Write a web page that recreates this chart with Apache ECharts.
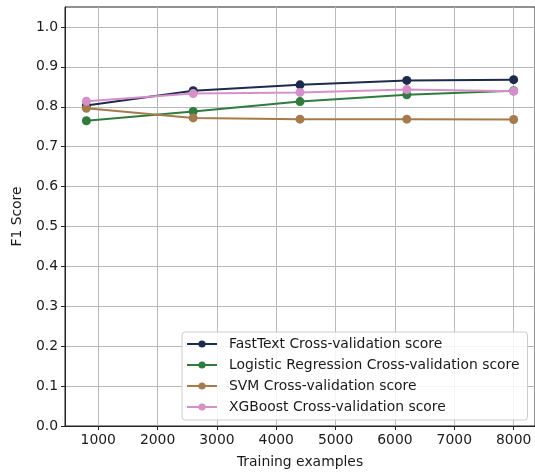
<!DOCTYPE html>
<html>
<head>
<meta charset="utf-8">
<script src="https://cdn.jsdelivr.net/npm/echarts@6/dist/echarts.min.js"></script>
<style>
html,body{margin:0;padding:0;background:#fff;}
#chart{width:535px;height:474px;}
</style>
</head>
<body>
<div id="chart"></div>
<script>
const trainSizes = [800, 2600, 4400, 6200, 8000];
const fastText = [0.803, 0.840, 0.855, 0.866, 0.868];
const logReg = [0.765, 0.788, 0.813, 0.830, 0.840];
const svm = [0.796, 0.772, 0.769, 0.769, 0.768];
const xgb = [0.814, 0.833, 0.836, 0.843, 0.839];
const seriesNames = ['FastText Cross-validation score', 'Logistic Regression Cross-validation score', 'SVM Cross-validation score', 'XGBoost Cross-validation score'];
const xTicks = [1000, 2000, 3000, 4000, 5000, 6000, 7000, 8000];
const yTicks = [0, 0.1, 0.2, 0.3, 0.4, 0.5, 0.6, 0.7, 0.8, 0.9, 1.0];
const colors = ['#1c2b4b', '#2f7c3f', '#a67b4c', '#d58fca'];

const allData = [fastText, logReg, svm, xgb];
const font = 'DejaVu Sans';
const fs = 13.9;
const txt = '#1a1a1a';

const chart = echarts.init(document.getElementById('chart'), null, {renderer: 'canvas'});
chart.setOption({
  animation: false,
  backgroundColor: '#fff',
  textStyle: {fontFamily: font},
  grid: {left: 65, top: 7, width: 473, height: 420, show: true, borderColor: '#222', borderWidth: 1, backgroundColor: 'transparent'},
  xAxis: {
    type: 'value', min: 440, max: 8360,
    name: 'Training examples', nameLocation: 'middle', nameGap: 29,
    nameTextStyle: {fontFamily: font, fontSize: fs, color: txt},
    axisLine: {show: true, onZero: false, lineStyle: {color: '#222', width: 1}},
    axisTick: {show: true, customValues: xTicks, length: 4, inside: false, lineStyle: {color: '#222'}},
    axisLabel: {customValues: xTicks, fontFamily: font, fontSize: fs, color: txt, margin: 7,
      formatter: v => String(Math.round(v))},
    splitLine: {show: true, lineStyle: {color: '#b8b8b8', width: 1}}
  },
  yAxis: {
    type: 'value', min: 0, max: 1.05,
    name: 'F1 Score', nameLocation: 'middle', nameGap: 41, nameRotate: 90,
    nameTextStyle: {fontFamily: font, fontSize: fs, color: txt},
    axisLine: {show: true, onZero: false, lineStyle: {color: '#222', width: 1}},
    axisTick: {show: true, customValues: yTicks, length: 4, lineStyle: {color: '#222'}},
    axisLabel: {customValues: yTicks, fontFamily: font, fontSize: fs, color: txt, margin: 7,
      formatter: v => v.toFixed(1)},
    splitLine: {show: true, lineStyle: {color: '#b8b8b8', width: 1}}
  },
  legend: {
    orient: 'vertical', left: 182, top: 332,
    itemWidth: 30, itemHeight: 9, itemGap: 7,
    padding: [5, 8, 6, 4],
    backgroundColor: 'rgba(255,255,255,0.85)', borderColor: '#cccccc', borderWidth: 1, borderRadius: 3,
    textStyle: {fontFamily: font, fontSize: fs, color: txt, padding: [0, 0, 0, 7]},
    data: seriesNames
  },
  series: seriesNames.map((n, i) => ({
    name: n, type: 'line',
    data: trainSizes.map((x, j) => [x, allData[i][j]]),
    symbol: 'circle', symbolSize: 9, showSymbol: true,
    color: colors[i],
    lineStyle: {width: 2, color: colors[i]},
    itemStyle: {color: colors[i]}
  }))
});
</script>
</body>
</html>
